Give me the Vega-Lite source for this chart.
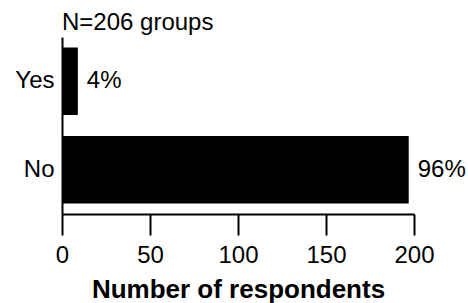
{
  "$schema": "https://vega.github.io/schema/vega-lite/v6.json",
  "autosize": "none",
  "width": 352,
  "height": 177,
  "padding": {"left": 62, "top": 37, "right": 54, "bottom": 89},
  "background": "white",
  "title": {
    "text": "N=206 groups",
    "anchor": "start",
    "frame": "group",
    "font": "Liberation Sans",
    "fontSize": 24,
    "fontWeight": "normal",
    "color": "black",
    "offset": 2
  },
  "data": {
    "values": [
      {"answer": "Yes", "count": 9, "label": "4%"},
      {"answer": "No", "count": 197, "label": "96%"}
    ]
  },
  "encoding": {
    "y": {
      "field": "answer",
      "type": "nominal",
      "sort": ["Yes", "No"],
      "scale": {"paddingInner": 0.24, "paddingOuter": 0.12},
      "axis": {
        "title": null,
        "ticks": false,
        "labelPadding": 8,
        "labelFont": "Liberation Sans",
        "labelFontSize": 24,
        "labelColor": "black",
        "domainColor": "black",
        "domainWidth": 2
      }
    },
    "x": {
      "field": "count",
      "type": "quantitative",
      "scale": {"domain": [0, 200], "nice": false},
      "axis": {
        "title": "Number of respondents",
        "titleFont": "Liberation Sans",
        "titleFontSize": 26,
        "titleFontWeight": "bold",
        "titleColor": "black",
        "titlePadding": 9,
        "values": [0, 50, 100, 150, 200],
        "grid": false,
        "tickSize": 21,
        "tickWidth": 2,
        "tickColor": "black",
        "domainColor": "black",
        "domainWidth": 2,
        "labelFont": "Liberation Sans",
        "labelFontSize": 24,
        "labelColor": "black",
        "labelPadding": 8,
        "labelFlush": false
      }
    }
  },
  "layer": [
    {"mark": {"type": "bar", "color": "black"}},
    {
      "mark": {
        "type": "text",
        "align": "left",
        "baseline": "middle",
        "dx": 9,
        "font": "Liberation Sans",
        "fontSize": 24,
        "color": "black"
      },
      "encoding": {"text": {"field": "label"}}
    }
  ],
  "config": {"view": {"stroke": null}}
}
